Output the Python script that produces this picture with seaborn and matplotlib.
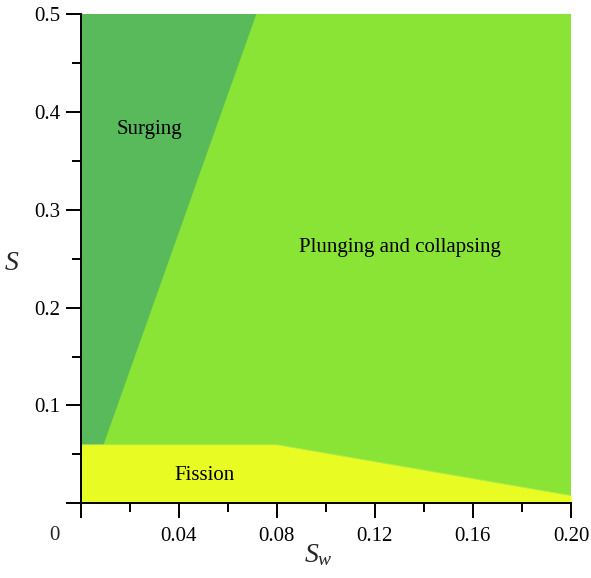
import matplotlib
matplotlib.use("Agg")
import matplotlib.pyplot as plt
import seaborn as sns
import numpy as np
import pandas as pd

# ---- data ----
x_limits = [0.0, 0.20]
y_limits = [0.0, 0.5]
fission_x = [0.0, 0.08, 0.20]
fission_top = [0.06, 0.06, 0.008]
surging_x = [0.0093, 0.0716]
surging_y = [0.06, 0.5]
x_major = [0.0, 0.04, 0.08, 0.12, 0.16, 0.20]
x_labels = ["", "0.04", "0.08", "0.12", "0.16", "0.20"]
y_major = [0.0, 0.1, 0.2, 0.3, 0.4, 0.5]
y_labels = ["", "0.1", "0.2", "0.3", "0.4", "0.5"]
region_names = ["Surging", "Plunging and collapsing", "Fission"]
region_pos_x = [0.0282, 0.1303, 0.0507]
region_pos_y = [0.3815, 0.261, 0.0285]

c_surging = "#58BA5A"
c_plunging = "#8AE436"
c_fission = "#E8FC24"

sns.set_style("ticks")
plt.rcParams["font.family"] = ["Liberation Serif", "DejaVu Serif"]
plt.rcParams["mathtext.fontset"] = "custom"
plt.rcParams["mathtext.rm"] = "Liberation Serif"
plt.rcParams["mathtext.it"] = "Liberation Serif:italic"

fig = plt.figure(figsize=(5.91, 5.78), dpi=100)
ax = fig.add_axes([80.5 / 591, 1 - 503.3 / 578, 490.5 / 591, 489.3 / 578])

# plunging background region
bg = pd.DataFrame({"x": x_limits, "y": [y_limits[1], y_limits[1]]})
ax.fill_between(bg["x"], y_limits[0], bg["y"], color=c_plunging, lw=0)

# surging region
sx = [x_limits[0]] + surging_x + [x_limits[0]]
sy = [surging_y[0]] + surging_y + [surging_y[1]]
ax.fill(sx, sy, color=c_surging, lw=0)

# fission region
fis = pd.DataFrame({"x": fission_x, "y": fission_top})
ax.fill_between(fis["x"], 0, fis["y"], color=c_fission, lw=0)

# faint boundary lines via seaborn
sns.lineplot(x=surging_x, y=surging_y, ax=ax, color=c_surging, lw=0.6, alpha=0.6)
sns.lineplot(data=fis, x="x", y="y", ax=ax, color="#c8f060", lw=0.6, alpha=0.6)

for name, px, py in zip(region_names, region_pos_x, region_pos_y):
    ax.text(px, py, name, ha="center", va="center", fontsize=15, color="black")

ax.set_xlim(*x_limits)
ax.set_ylim(*y_limits)
ax.set_xticks(x_major)
ax.set_xticklabels(x_labels)
ax.set_yticks(y_major)
ax.set_yticklabels(y_labels)
ax.set_xticks(np.arange(0, 0.2001, 0.02), minor=True)
ax.set_yticks(np.arange(0, 0.5001, 0.05), minor=True)
ax.tick_params(which="major", direction="out", length=10.8, width=1.4,
               labelsize=15, color="black", labelcolor="black")
ax.tick_params(axis="x", which="major", pad=6)
ax.tick_params(axis="y", which="major", pad=3.5)
ax.tick_params(which="minor", direction="out", length=6.5, width=1.4, color="black")

ax.text(-0.0105, -0.0324, "0", ha="center", va="center", fontsize=15, clip_on=False)

sns.despine(ax=ax)
for s in ["left", "bottom"]:
    ax.spines[s].set_linewidth(1.4)
    ax.spines[s].set_color("black")

ax.set_ylabel(r"$S$", fontsize=20, rotation=0)
ax.yaxis.set_label_coords(-0.14, 0.49)
ax.yaxis.label.set_va("center")
ax.yaxis.label.set_ha("center")
ax.set_xlabel(r"$S_w$", fontsize=20)
ax.xaxis.set_label_coords(0.484, -0.105)
ax.xaxis.label.set_va("center")

fig.savefig("out.png", dpi=100)
